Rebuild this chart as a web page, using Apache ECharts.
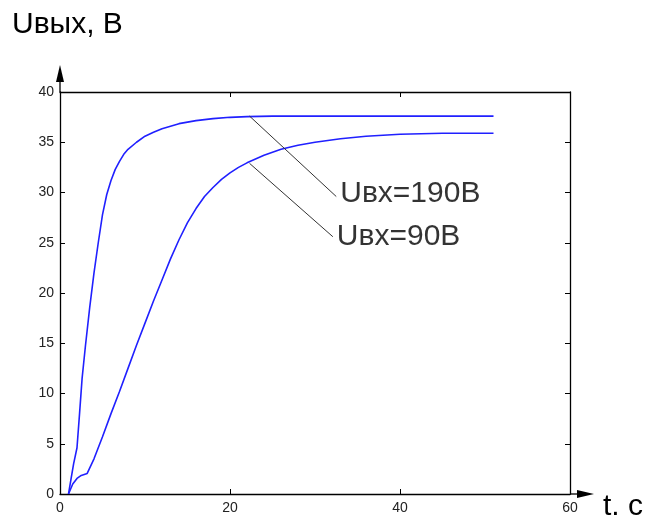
<!DOCTYPE html>
<html>
<head>
<meta charset="utf-8">
<script src="https://cdn.jsdelivr.net/npm/echarts@6/dist/echarts.min.js"></script>
<style>
html,body{margin:0;padding:0;background:#fff;}
#c{width:650px;height:525px;}
</style>
</head>
<body>
<div id="c"></div>
<script>
// Data
const t190 = [1, 1.3, 1.6, 2, 2.3, 2.6, 3, 3.5, 4, 4.5, 5, 5.5, 6, 6.5, 7, 7.5, 8, 9, 10, 11, 12, 14, 16, 18, 20, 22, 25, 30, 40, 51];
const u190 = [0, 1.5, 3.0, 4.6, 8.0, 11.5, 14.8, 18.6, 22.0, 25.0, 27.8, 29.8, 31.2, 32.3, 33.1, 33.8, 34.3, 35.0, 35.6, 36.0, 36.35, 36.85, 37.15, 37.35, 37.48, 37.55, 37.6, 37.6, 37.6, 37.6];
const t90 = [1, 1.5, 2, 2.5, 3.2, 4, 5, 6, 7, 8, 9, 10, 11, 12, 13, 14, 15, 16, 17, 18, 19, 20, 21, 22, 24, 26, 28, 30, 33, 36, 40, 45, 51];
const u90 = [0, 1.0, 1.55, 1.85, 2.05, 3.5, 5.7, 8.0, 10.2, 12.5, 14.8, 17.0, 19.2, 21.3, 23.4, 25.3, 27.0, 28.4, 29.6, 30.5, 31.3, 31.95, 32.5, 32.95, 33.7, 34.3, 34.7, 35.0, 35.35, 35.6, 35.8, 35.9, 35.9];
const leader190 = [[22.3, 37.6], [32.5, 29.6]];
const leader90 = [[22.3, 32.9], [32.1, 25.6]];
const label190 = 'Uвх=190В';
const label90 = 'Uвх=90В';
const yTitle = 'Uвых, В';
const xTitle = 't. c';

const zip = (a, b) => a.map((v, i) => [v, b[i]]);
const FONT = '"Liberation Sans", Arial, sans-serif';

const chart = echarts.init(document.getElementById('c'));
const axisCommon = {
  type: 'value',
  splitLine: { show: false },
  axisLine: { show: true, onZero: false, lineStyle: { color: '#000', width: 1.3 } },
  axisTick: { show: true, inside: true, length: 5, lineStyle: { color: '#000' } },
};
chart.setOption({
  animation: false,
  backgroundColor: '#fff',
  grid: { left: 60, right: 80, top: 92, bottom: 31 },
  xAxis: [
    Object.assign({}, axisCommon, { min: 0, max: 60, interval: 20, position: 'bottom',
      axisLabel: { color: '#222', fontSize: 14, fontFamily: FONT, margin: 7 } }),
    Object.assign({}, axisCommon, { min: 0, max: 60, interval: 20, position: 'top',
      axisLabel: { show: false } })
  ],
  yAxis: [
    Object.assign({}, axisCommon, { min: 0, max: 40, interval: 5, position: 'left',
      axisLabel: { color: '#222', fontSize: 14, fontFamily: FONT, margin: 6 } }),
    Object.assign({}, axisCommon, { min: 0, max: 40, interval: 5, position: 'right',
      axisLabel: { show: false } })
  ],
  series: [
    { type: 'line', data: zip(t190, u190), showSymbol: false, symbol: 'none', smooth: false,
      lineStyle: { color: '#2020ff', width: 1.6 } },
    { type: 'line', data: zip(t90, u90), showSymbol: false, symbol: 'none', smooth: false,
      lineStyle: { color: '#2020ff', width: 1.6 } },
    { type: 'line', data: leader190, symbol: 'none', lineStyle: { color: '#333', width: 1 } },
    { type: 'line', data: leader90, symbol: 'none', lineStyle: { color: '#333', width: 1 } },
    { type: 'scatter', symbolSize: 0,
      data: [
        { value: leader190[1], label: { formatter: label190, offset: [0, -3] } },
        { value: leader90[1], label: { formatter: label90, offset: [0, 0] } }
      ],
      label: { show: true, position: 'right', distance: 4, color: '#000', fontSize: 30, fontFamily: FONT }
    }
  ],
  graphic: []
});

// Axis arrows and titles, positioned from the axes' own pixel mapping
const o = chart.convertToPixel({ xAxisIndex: 0, yAxisIndex: 0 }, [0, 0]);
const xe = chart.convertToPixel({ xAxisIndex: 0, yAxisIndex: 0 }, [60, 40]);
chart.setOption({
  graphic: [
    { type: 'line', shape: { x1: o[0], y1: xe[1], x2: o[0], y2: xe[1] - 12 }, style: { stroke: '#000', lineWidth: 1.3 } },
    { type: 'polygon', shape: { points: [[o[0] - 4, xe[1] - 10], [o[0] + 4, xe[1] - 10], [o[0], xe[1] - 27]] }, style: { fill: '#000' } },
    { type: 'line', shape: { x1: xe[0], y1: o[1], x2: xe[0] + 10, y2: o[1] }, style: { stroke: '#000', lineWidth: 1.3 } },
    { type: 'polygon', shape: { points: [[xe[0] + 7, o[1] - 4], [xe[0] + 7, o[1] + 4], [xe[0] + 24, o[1]]] }, style: { fill: '#000' } },
    { type: 'text', left: 12, top: 10, style: { text: yTitle, font: '30px ' + FONT, fill: '#000' } },
    { type: 'text', left: 603, top: 492, style: { text: xTitle, font: '30px ' + FONT, fill: '#000' } }
  ]
});
</script>
</body>
</html>
